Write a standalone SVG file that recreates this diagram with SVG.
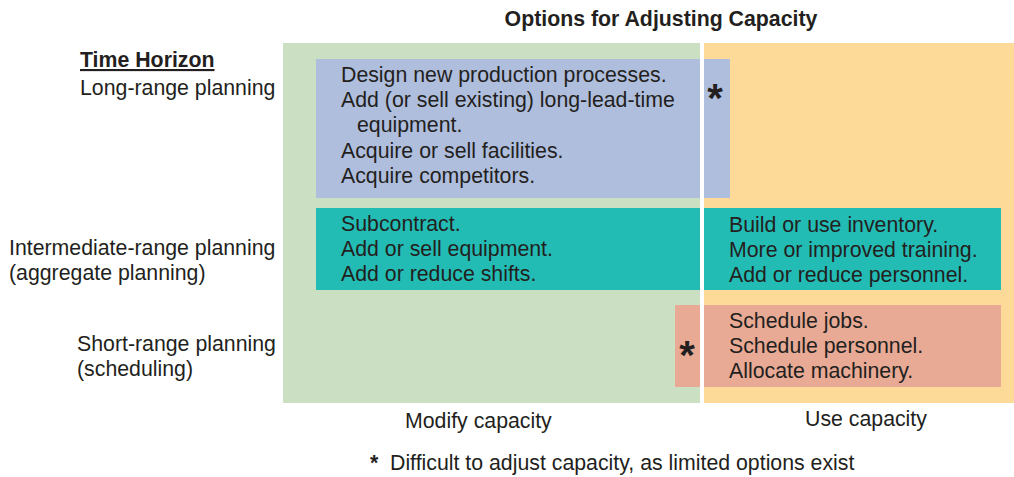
<svg xmlns="http://www.w3.org/2000/svg" width="1014" height="477" viewBox="0 0 1014 477">
<style>
text{font-family:"Liberation Sans",Arial,Helvetica,sans-serif;font-size:21.3px;fill:#231F20}
.b{font-weight:bold}
.ast{font-weight:bold;font-size:40px;text-anchor:middle}
</style>
<rect width="1014" height="477" fill="#ffffff"/>
<text class="b" x="661" y="26" text-anchor="middle">Options for Adjusting Capacity</text>
<g id="col-modify"><rect x="283" y="43" width="417" height="360" fill="#CBDFC3"/></g>
<g id="col-use"><rect x="704" y="43" width="310" height="360" fill="#FEDA98"/></g>
<g id="long-range">
<rect x="316" y="59" width="414" height="139" fill="#AFBEDD"/>
<text x="341" y="82">Design new production processes.</text>
<text x="341" y="107">Add (or sell existing) long-lead-time</text>
<text x="357" y="132">equipment.</text>
<text x="341" y="158">Acquire or sell facilities.</text>
<text x="341" y="183">Acquire competitors.</text>
<text class="ast" x="715" y="112">*</text>
</g>
<g id="intermediate">
<rect x="316" y="208" width="685" height="82" fill="#22BCB5"/>
<text x="341" y="231">Subcontract.</text>
<text x="341" y="256">Add or sell equipment.</text>
<text x="341" y="281">Add or reduce shifts.</text>
<text x="729" y="232">Build or use inventory.</text>
<text x="729" y="257">More or improved training.</text>
<text x="729" y="282">Add or reduce personnel.</text>
</g>
<g id="short-range">
<rect x="675" y="305" width="326" height="82" fill="#E8AA95"/>
<text x="729" y="328">Schedule jobs.</text>
<text x="729" y="353">Schedule personnel.</text>
<text x="729" y="378">Allocate machinery.</text>
<text class="ast" x="687" y="369">*</text>
</g>
<rect id="separator" x="700" y="43" width="4" height="360" fill="#ffffff"/>
<g id="time-horizon">
<text class="b" x="80" y="67" text-decoration="underline">Time Horizon</text>
<text x="80" y="95">Long-range planning</text>
<text x="9" y="255">Intermediate-range planning</text>
<text x="9" y="280">(aggregate planning)</text>
<text x="77" y="351">Short-range planning</text>
<text x="77" y="376">(scheduling)</text>
</g>
<g id="axis-labels">
<text x="405" y="428">Modify capacity</text>
<text x="805" y="426">Use capacity</text>
<text class="b" x="370" y="470" font-size="24px">*</text>
<text x="390" y="470">Difficult to adjust capacity, as limited options exist</text>
</g>
</svg>
